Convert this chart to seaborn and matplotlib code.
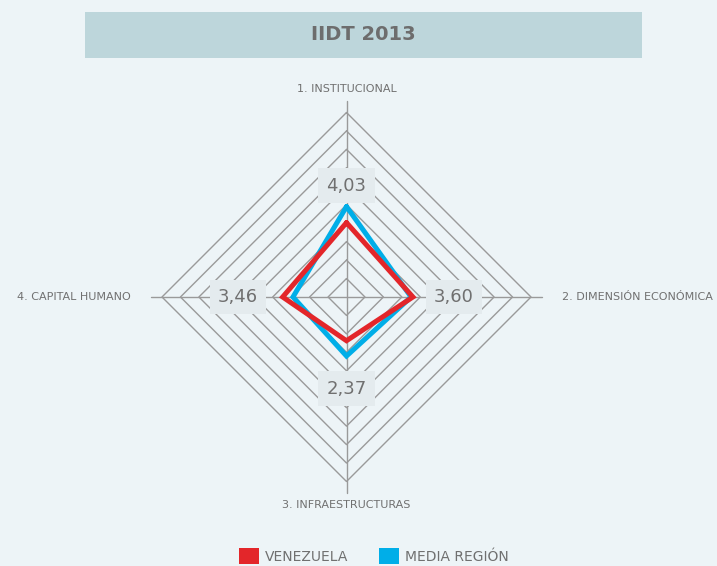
import numpy as np
import pandas as pd
import seaborn as sns
import matplotlib.pyplot as plt
from matplotlib.patches import Rectangle, Patch

# datos
ejes = ["1. INSTITUCIONAL", "2. DIMENSIÓN ECONÓMICA", "3. INFRAESTRUCTURAS", "4. CAPITAL HUMANO"]
venezuela = [4.03, 3.60, 2.37, 3.46]
media_region = [4.9, 3.5, 3.2, 2.9]
etiquetas = ["4,03", "3,60", "2,37", "3,46"]
niveles = list(range(1, 11))

sns.set_theme(style="white")
plt.rcParams["font.family"] = ["DejaVu Sans"]

BG = "#edf4f7"
GRIS = "#9a9a9a"
TXT = "#707070"

# angulos: 1 arriba, 2 derecha, 3 abajo, 4 izquierda
ang = np.deg2rad([90, 0, -90, 180])


def a_xy(vals):
    v = list(vals) + [vals[0]]
    a = list(ang) + [ang[0]]
    return [r * np.cos(t) for r, t in zip(v, a)], [r * np.sin(t) for r, t in zip(v, a)]


filas = []
for nombre, vals in [("MEDIA REGIÓN", media_region), ("VENEZUELA", venezuela)]:
    xs, ys = a_xy(vals)
    for i, (x, y) in enumerate(zip(xs, ys)):
        filas.append({"serie": nombre, "orden": i, "x": x, "y": y})
df = pd.DataFrame(filas)

fig = plt.figure(figsize=(7.17, 5.66), dpi=100)
fig.patch.set_facecolor(BG)
ax = fig.add_axes([0, 0, 1, 1])
ax.set_facecolor(BG)

esc = 18.45
cx, cy = 346.5, 297
ax.set_xlim(-cx / esc, (717 - cx) / esc)
ax.set_ylim(-(566 - cy) / esc, cy / esc)
ax.axis("off")

# rejilla en rombos
for n in niveles:
    xs, ys = a_xy([n] * 4)
    ax.plot(xs, ys, color=GRIS, lw=1.0, zorder=1)
ax.plot([0, 0], [-10.6, 10.6], color=GRIS, lw=1.0, zorder=1)
ax.plot([-10.6, 10.6], [0, 0], color=GRIS, lw=1.0, zorder=1)

sns.lineplot(data=df, x="x", y="y", hue="serie", sort=False, estimator=None,
             palette={"MEDIA REGIÓN": "#00aee8", "VENEZUELA": "#e3262a"},
             linewidth=3.6, solid_joinstyle="miter", legend=False, ax=ax, zorder=3)

# etiquetas de valores
pos_val = [(0, 6.04), (5.82, 0), (0, -4.96), (-5.89, 0)]
for (x, y), t in zip(pos_val, etiquetas):
    ax.text(x, y, t, ha="center", va="center", fontsize=13, color=TXT, zorder=5,
            bbox=dict(boxstyle="square,pad=0.45", fc="#e4ebee", ec="none"))

# nombres de los ejes
ax.text(0, 11.27, ejes[0], ha="center", va="center", fontsize=8, color=TXT)
ax.text(11.68, 0, ejes[1], ha="left", va="center", fontsize=8, color=TXT)
ax.text(0, -11.27, ejes[2], ha="center", va="center", fontsize=8, color=TXT)
ax.text(-11.68, 0, ejes[3], ha="right", va="center", fontsize=8, color=TXT)

# titulo
fig.patches.append(Rectangle((85 / 717, 1 - 57.7 / 566), (641.7 - 85) / 717, 45.7 / 566,
                             transform=fig.transFigure, fc="#bdd6db", ec="none", zorder=0))
fig.text(363 / 717, 1 - 35 / 566, "IIDT 2013", ha="center", va="center",
         fontsize=14, fontweight="bold", color="#6d6d6d")

# leyenda
handles = [Patch(fc="#e3262a", ec="none", label="VENEZUELA"),
           Patch(fc="#00aee8", ec="none", label="MEDIA REGIÓN")]
leg = fig.legend(handles=handles, loc="center left", bbox_to_anchor=(239 / 717, 1 - 556 / 566),
                 ncol=2, frameon=False, fontsize=10, handlelength=1.44, handleheight=1.44,
                 handletextpad=0.45, columnspacing=2.2, borderpad=0, borderaxespad=0)
for t in leg.get_texts():
    t.set_color(TXT)

fig.savefig("out.png", dpi=100, facecolor=BG)
